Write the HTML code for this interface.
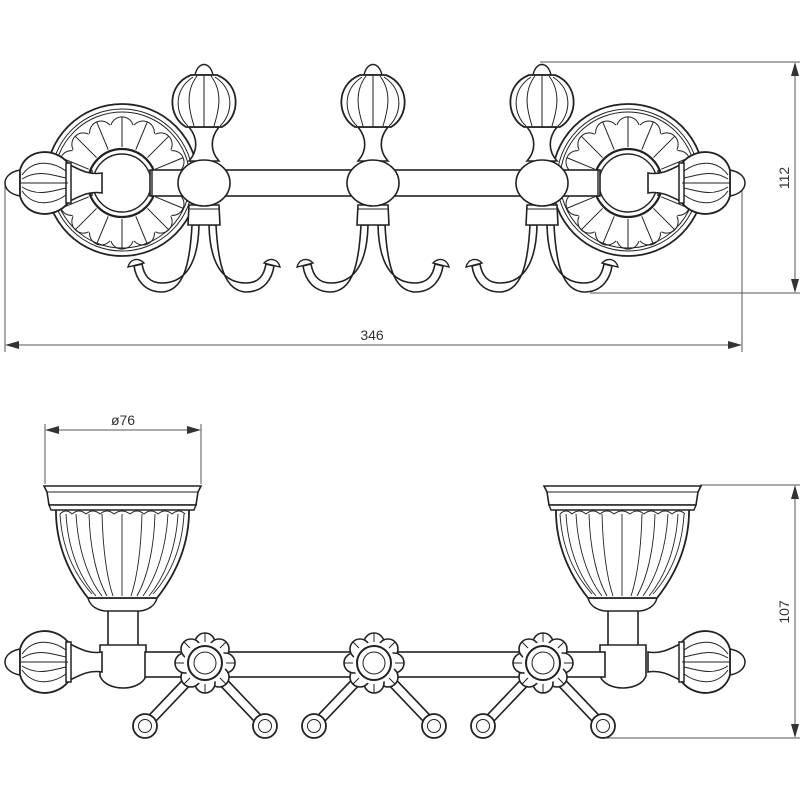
<!DOCTYPE html>
<html><head><meta charset="utf-8"><style>
html,body{margin:0;padding:0;background:#fff;}
svg{display:block;}
text{font-family:"Liberation Sans",sans-serif;font-size:14px;fill:#333;}
</style></head><body>
<svg width="800" height="800" viewBox="0 0 800 800" xmlns="http://www.w3.org/2000/svg">
<defs>
  <path id="pp" d="M-11,-58 A11.5,11.5 0 0 1 11,-58 M0,-66 L0,-36" />
  <g id="finial" fill="#fff" stroke="#222">
    <path d="M20,-13 C9,-11 5,-5 5,0 C5,5 9,11 20,13 Z" stroke-width="1.5"/>
    <path d="M70,-18 C82,-12 90,-8 102,-10 L102,10 C90,8 82,12 70,18 Z" stroke-width="1.6"/>
    <path d="M20,-13 C26,-35 55,-36 68,-20 L68,20 C55,36 26,35 20,13 Z" stroke-width="1.8"/>
    <rect x="66" y="-20" width="5" height="40" stroke-width="1.5"/>
    <path d="M20,0 L68,0" stroke-width="1" fill="none"/>
    <path d="M22,-8 C35,-26 55,-20 66,-12 M22,8 C35,26 55,20 66,12 M22,-4 C38,-14 52,-8 66,-5 M22,4 C38,14 52,8 66,5" stroke-width="1" fill="none"/>
  </g>
  <g id="hook" fill="#fff" stroke="#222" stroke-width="1.6">
    <path d="M-12,42 C-14,80 -20,108 -42,109 C-60,109 -68,96 -70,83 L-62,81 C-60,92 -55,100 -42,100 C-24,100 -6,88 -5,42 Z"/>
    <path d="M12,42 C14,80 20,108 42,109 C60,109 68,96 70,83 L62,81 C60,92 55,100 42,100 C24,100 6,88 5,42 Z"/>
    <path d="M-76,84 C-74,76 -66,74 -60,80 Z M76,84 C74,76 66,74 60,80 Z" stroke-width="1.4"/>
    <path d="M-15,22 L15,22 L16,42 L-16,42 Z"/>
    <path d="M-15,26 L15,26" stroke-width="1"/>
    <path d="M-15,-56 C-6,-45 -6,-32 -15,-22 L15,-22 C6,-32 6,-45 15,-56 Z"/>
    <ellipse cx="0" cy="0" rx="26" ry="23"/>
    <path d="M-9,-108 C-6,-122 6,-122 9,-108 Z" stroke-width="1.4"/>
    <path d="M-13,-108 C-38,-98 -36,-66 -18,-56 L18,-56 C36,-66 38,-98 13,-108 Z" stroke-width="1.8"/>
    <path d="M0,-108 L0,-56 M-7,-107 C-20,-90 -14,-70 -10,-57 M7,-107 C20,-90 14,-70 10,-57 M-11,-106 C-32,-92 -28,-68 -16,-57 M11,-106 C32,-92 28,-68 16,-57" stroke-width="1" fill="none"/>
  </g>
  <g id="rosette" stroke="#222" fill="none">
    <circle cx="0" cy="-3" r="76" stroke-width="1.8" fill="#fff"/>
    <circle cx="0" cy="-3" r="71" stroke-width="1"/>
    <circle cx="0" cy="-3" r="68" stroke-width="1"/>
    <g stroke-width="1">
      <use href="#pp"/>
      <use href="#pp" transform="rotate(22.5)"/><use href="#pp" transform="rotate(45)"/><use href="#pp" transform="rotate(67.5)"/>
      <use href="#pp" transform="rotate(90)"/><use href="#pp" transform="rotate(112.5)"/><use href="#pp" transform="rotate(135)"/>
      <use href="#pp" transform="rotate(157.5)"/><use href="#pp" transform="rotate(180)"/><use href="#pp" transform="rotate(202.5)"/>
      <use href="#pp" transform="rotate(225)"/><use href="#pp" transform="rotate(247.5)"/><use href="#pp" transform="rotate(270)"/>
      <use href="#pp" transform="rotate(292.5)"/><use href="#pp" transform="rotate(315)"/><use href="#pp" transform="rotate(337.5)"/>
    </g>
    <circle cx="0" cy="0" r="34" stroke-width="2.2" fill="#fff"/>
    <circle cx="0" cy="0" r="29" stroke-width="1.4"/>
  </g>
  <g id="flower" stroke="#222" fill="#fff">
    <rect x="18" y="-4.5" width="64" height="9" transform="rotate(46.4)" stroke-width="1.6"/>
    <rect x="18" y="-4.5" width="64" height="9" transform="rotate(133.6)" stroke-width="1.6"/>
    <circle cx="-60" cy="63" r="12" stroke-width="1.8"/><circle cx="-60" cy="63" r="6.5" stroke-width="1"/>
    <circle cx="60" cy="63" r="12" stroke-width="1.8"/><circle cx="60" cy="63" r="6.5" stroke-width="1"/>
    <g stroke-width="1.6">
      <circle cx="0" cy="-20" r="10"/><circle cx="14" cy="-14" r="10"/><circle cx="20" cy="0" r="10"/><circle cx="14" cy="14" r="10"/>
      <circle cx="0" cy="20" r="10"/><circle cx="-14" cy="14" r="10"/><circle cx="-20" cy="0" r="10"/><circle cx="-14" cy="-14" r="10"/>
    </g>
    <circle cx="0" cy="0" r="21" stroke="none"/>
    <path d="M0,-21 L0,-30 M0,21 L0,30 M-21,0 L-30,0 M21,0 L30,0 M15,-15 L21,-21 M-15,-15 L-21,-21 M15,15 L21,21 M-15,15 L-21,21" stroke-width="1" fill="none"/>
    <circle cx="0" cy="0" r="17" stroke-width="2"/>
    <circle cx="0" cy="0" r="11" stroke-width="1"/>
  </g>
  <g id="cup" stroke="#222" fill="#fff">
    <path d="M108,610 L138,610 L138,648 L108,648 Z" stroke-width="1.6"/>
    <path d="M100,645 L146,645 L146,676 C140,692 106,692 100,676 Z" stroke-width="1.6"/>
    <path d="M88,598 L157,598 C155,606 148,610 140,611 L105,611 C97,610 90,606 88,598 Z" stroke-width="1.5"/>
    <path d="M56,507 L189,507 C190,545 175,575 157,598 L88,598 C70,575 55,545 56,507 Z" stroke-width="1.8"/>
    <path d="M44,486 L201,486 L198,492 L196,505 L49,505 L47,492 Z" stroke-width="1.6"/>
    <path d="M47,492 L198,492" stroke-width="1"/>
    <path d="M49,505 L196,505 L194,510 L51,510 Z" stroke-width="1.4"/>
    <g fill="none" stroke-width="0.9">
      <path d="M60,514 C62,550 75,575 92,594"/>
      <path d="M66,514 C68,550 80,578 96,596"/>
      <path d="M76,514 C78,550 88,578 102,596"/>
      <path d="M89,514 C90,550 97,578 107,596"/>
      <path d="M102,514 C103,550 107,578 113,596"/>
      <path d="M122,514 L122,596"/>
      <path d="M142,514 C141,550 137,578 131,596"/>
      <path d="M155,514 C154,550 147,578 137,596"/>
      <path d="M168,514 C166,550 156,578 143,596"/>
      <path d="M178,514 C176,550 164,578 149,596"/>
      <path d="M184,514 C182,550 170,575 153,594"/>
      <path d="M60,514 Q66,508 72,514 Q79,508 86,514 Q93,508 100,514 Q107,508 114,514 Q122,508 130,514 Q137,508 144,514 Q151,508 158,514 Q165,508 172,514 Q179,508 185,514"/>
    </g>
  </g>
</defs>

<g stroke="#555" stroke-width="1" fill="none">
  <path d="M540,62 L800,62 M590,293 L800,293 M795,64 L795,291"/>
  <path d="M5,185 L5,352 M742,185 L742,352 M7,345 L740,345"/>
</g>
<g fill="#333">
  <path d="M795,62 L791,76 L799,76 Z M795,293 L791,279 L799,279 Z"/>
  <path d="M5,345 L19,341 L19,349 Z M742,345 L728,341 L728,349 Z"/>
</g>
<text x="372" y="340" text-anchor="middle">346</text>
<text transform="translate(789,178) rotate(-90)" text-anchor="middle">112</text>

<use href="#rosette" transform="translate(122,183)"/>
<use href="#rosette" transform="translate(628,183)"/>
<rect x="150" y="170" width="450" height="26" fill="#fff" stroke="#222" stroke-width="1.6"/>
<path d="M92,170 L92,196 M152,170 L152,196 M598,170 L598,196 M658,170 L658,196" stroke="#222" stroke-width="1.4"/>
<use href="#hook" transform="translate(204,183)"/>
<use href="#hook" transform="translate(373,183)"/>
<use href="#hook" transform="translate(542,183)"/>
<use href="#finial" transform="translate(0,183)"/>
<use href="#finial" transform="translate(750,183) scale(-1,1)"/>

<g stroke="#555" stroke-width="1" fill="none">
  <path d="M45,424 L45,484 M201,424 L201,484 M47,430 L199,430"/>
  <path d="M700,485 L800,485 M605,738 L800,738 M795,487 L795,736"/>
</g>
<g fill="#333">
  <path d="M45,430 L59,426 L59,434 Z M201,430 L187,426 L187,434 Z"/>
  <path d="M795,485 L791,499 L799,499 Z M795,738 L791,724 L799,724 Z"/>
</g>
<text x="123" y="425" text-anchor="middle">ø76</text>
<text transform="translate(789,612) rotate(-90)" text-anchor="middle">107</text>

<use href="#cup"/>
<use href="#cup" transform="translate(500,0)"/>
<rect x="145" y="652" width="460" height="25" fill="#fff" stroke="#222" stroke-width="1.6"/>
<use href="#flower" transform="translate(205,663)"/>
<use href="#flower" transform="translate(374,663)"/>
<use href="#flower" transform="translate(543,663)"/>
<use href="#finial" transform="translate(0,662)"/>
<use href="#finial" transform="translate(750,662) scale(-1,1)"/>
</svg>
</body></html>
